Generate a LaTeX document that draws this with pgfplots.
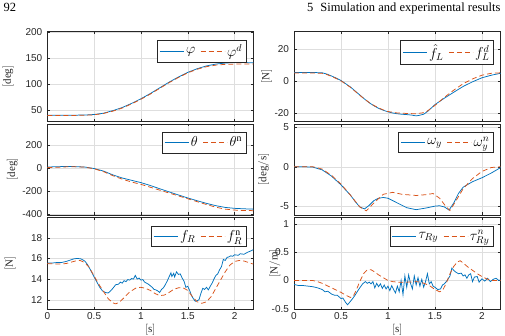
\documentclass[border=0pt]{standalone}
\usepackage{fontspec}
\setmainfont{Liberation Serif}
\newfontfamily\ticksf{Liberation Sans}
\usepackage{pgfplots}
\pgfplotsset{compat=1.18}
\definecolor{mblue}{RGB}{0,114,189}
\definecolor{morange}{RGB}{217,83,25}
\definecolor{axgray}{RGB}{38,38,38}
\definecolor{gridgray}{RGB}{222,222,222}
\pgfplotsset{
  mstyle/.style={
    scale only axis, anchor=north west,
    xmin=0, xmax=2.2, xtick={0,0.5,1,1.5,2},
    grid=major, major grid style={gridgray, line width=0.4pt},
    axis line style={axgray, line width=0.5pt},
    tick style={axgray, line width=0.4pt}, tick align=inside, major tick length=2.5pt,
    xtick pos=both, ytick pos=both,
    ticklabel style={font=\ticksf\fontsize{10}{12}\selectfont, text=axgray},
    yticklabel style={xshift=-1.5pt},
    label style={font=\fontsize{11}{13}\selectfont, text=axgray},
    legend style={draw=axgray, line width=0.5pt, fill=white,
      font=\fontsize{14}{16}\selectfont, anchor=north east,
      inner xsep=2pt, inner ysep=2.5pt,
      /tikz/every even column/.append style={column sep=3pt}},
    legend columns=2,
    legend image code/.code={\draw (0pt,0pt) -- (24pt,0pt);},
  },
  lw/.style={mstyle, width=206pt, at={(47.3pt,#1)}},
  rw/.style={mstyle, width=206.7pt, at={(294pt,#1)}},
  sol/.style={mblue, line width=0.75pt},
  das/.style={morange, line width=0.75pt, dash pattern=on 5pt off 3pt},
}
\begin{document}
\begin{tikzpicture}
\path[use as bounding box] (0pt,0pt) rectangle (505pt,335pt);
\node[anchor=base west, inner sep=0pt] at (3.5pt,323.5pt) {\fontsize{12.5}{14}\selectfont 92};
\node[anchor=base east, inner sep=0pt] at (500.7pt,323.5pt) {\fontsize{12.5}{14}\selectfont 5\hspace{7pt}Simulation and experimental results};

% ---------- top left: phi
\begin{axis}[lw=303.5pt, height=90pt, ymin=28, ymax=202,
  ytick={50,100,150,200}, yticklabels={50,100,150,200}, xticklabels={},
  ylabel={$[\mathrm{deg}]$}, ylabel style={at={(axis description cs:-0.19,0.5)}, anchor=center},
  legend style={at={(0.966,0.911)}}]
\addplot[sol] coordinates {(0,40) (0.2,40) (0.4,40.5) (0.5,41.5) (0.6,44) (0.7,49) (0.8,55) (0.9,63) (1.0,72) (1.1,82) (1.2,93) (1.3,104) (1.4,114) (1.5,123) (1.6,130) (1.7,135.5) (1.8,139) (1.9,141) (2.0,142) (2.1,142) (2.2,141.5)};
\addlegendentry{$\varphi$}
\addplot[das] coordinates {(0,39.5) (0.2,39.5) (0.4,40) (0.5,41) (0.6,43.5) (0.7,48) (0.8,54) (0.9,62) (1.0,71) (1.1,81) (1.2,92) (1.3,103) (1.4,113) (1.5,122) (1.6,129) (1.7,134) (1.8,137) (1.9,138.5) (2.0,139) (2.1,139) (2.2,139)};
\addlegendentry{$\varphi^d$}
\end{axis}

% ---------- top right: f_L
\begin{axis}[rw=303.5pt, height=90pt, ymin=-25, ymax=31,
  ytick={-20,0,20}, yticklabels={-20,0,20}, xticklabels={},
  ylabel={$[\mathrm{N}]$}, ylabel style={at={(axis description cs:-0.132,0.5)}, anchor=center},
  legend style={at={(0.966,0.911)}}]
\addplot[sol] coordinates {(0,5.5) (0.1,5.5) (0.2,5.5) (0.3,5.3) (0.35,4.5) (0.4,3.3) (0.45,2) (0.5,0.5) (0.55,-1.5) (0.6,-3.5) (0.65,-6) (0.7,-8.5) (0.75,-11) (0.8,-13.3) (0.85,-15.2) (0.9,-16.8) (0.95,-18) (1.0,-19) (1.05,-19.7) (1.1,-20.2) (1.15,-20.5) (1.2,-20.7) (1.25,-21) (1.3,-21.5) (1.33,-21.2) (1.38,-20.5) (1.42,-18.8) (1.5,-14.5) (1.6,-10.5) (1.7,-6.8) (1.8,-3.2) (1.9,-0.3) (2.0,2.2) (2.1,3.8) (2.2,5)};
\addlegendentry{$\hat{f}_L$}
\addplot[das] coordinates {(0,5.2) (0.2,5.2) (0.3,5) (0.35,4.2) (0.4,3) (0.45,1.7) (0.5,0.3) (0.55,-1.7) (0.6,-3.7) (0.65,-6.2) (0.7,-8.7) (0.75,-11) (0.8,-13.2) (0.85,-15) (0.9,-16.5) (0.95,-17.8) (1.0,-18.8) (1.1,-19.7) (1.2,-20) (1.3,-20.2) (1.4,-19.3) (1.5,-15) (1.6,-10) (1.7,-5.5) (1.8,-1.5) (1.9,1.5) (2.0,3.8) (2.1,5) (2.2,5.3)};
\addlegendentry{$f_L^d$}
\end{axis}

% ---------- middle left: theta
\begin{axis}[lw=211pt, height=90.8pt, ymin=-404, ymax=383,
  ytick={-400,-200,0,200}, yticklabels={-400,-200,0,200}, xticklabels={},
  ylabel={$[\mathrm{deg}]$}, ylabel style={at={(axis description cs:-0.17,0.5)}, anchor=center},
  legend style={at={(0.966,0.911)}}]
\addplot[sol] coordinates {(0,10) (0.1,13) (0.25,15) (0.4,10) (0.5,-3) (0.6,-25) (0.7,-58) (0.8,-85) (0.9,-105) (1.0,-125) (1.1,-150) (1.2,-178) (1.3,-205) (1.4,-232) (1.5,-258) (1.6,-282) (1.7,-305) (1.8,-325) (1.9,-340) (2.0,-348) (2.1,-352) (2.2,-355)};
\addlegendentry{$\theta$}
\addplot[das] coordinates {(0,5) (0.25,13) (0.4,9) (0.5,-5) (0.6,-30) (0.7,-65) (0.8,-95) (0.9,-120) (1.0,-140) (1.1,-165) (1.2,-190) (1.3,-215) (1.4,-240) (1.5,-265) (1.6,-290) (1.7,-315) (1.8,-338) (1.9,-355) (2.0,-363) (2.1,-367) (2.2,-368)};
\addlegendentry{$\theta^{\mathrm{n}}$}
\end{axis}

% ---------- middle right: omega_y
\begin{axis}[rw=211pt, height=90.8pt, ymin=-6.1, ymax=5.42,
  ytick={-5,0,5}, yticklabels={-5,0,5}, xticklabels={},
  ylabel={$[\mathrm{deg/s}]$}, ylabel style={at={(axis description cs:-0.147,0.5)}, anchor=center},
  legend style={at={(0.966,0.911)}}]
\addplot[sol] coordinates {(0,0) (0.1,0) (0.2,-0.05) (0.3,-0.4) (0.4,-1.2) (0.5,-2.3) (0.6,-3.6) (0.65,-4.4) (0.7,-5.1) (0.75,-5.35) (0.8,-4.9) (0.85,-4.3) (0.9,-4.0) (0.95,-3.9) (1.0,-4.0) (1.1,-4.6) (1.2,-5.2) (1.3,-5.45) (1.4,-5.25) (1.5,-5.0) (1.55,-4.95) (1.6,-5.1) (1.65,-5.5) (1.7,-4.6) (1.75,-3.4) (1.8,-2.6) (1.9,-1.9) (2.0,-1.4) (2.1,-0.8) (2.2,-0.1)};
\addlegendentry{$\omega_y$}
\addplot[das] coordinates {(0,0) (0.2,0) (0.3,-0.3) (0.4,-1.1) (0.5,-2.2) (0.6,-3.6) (0.7,-5.1) (0.77,-5.6) (0.85,-4.6) (0.95,-3.5) (1.05,-3.25) (1.15,-3.5) (1.3,-3.65) (1.4,-3.55) (1.48,-3.4) (1.55,-4.0) (1.62,-5.1) (1.66,-5.55) (1.72,-4.4) (1.8,-2.8) (1.9,-1.5) (2.0,-0.6) (2.1,-0.1) (2.2,0)};
\addlegendentry{$\omega_y^n$}
\end{axis}

% ---------- bottom left: f_R
\begin{axis}[lw=117.3pt, height=91.3pt, ymin=11.1, ymax=19.94,
  ytick={12,14,16,18}, yticklabels={12,14,16,18}, xticklabels={0,0.5,1,1.5,2},
  xlabel={$[\mathrm{s}]$}, xlabel style={at={(axis description cs:0.5,-0.23)}, anchor=center},
  ylabel={$[\mathrm{N}]$}, ylabel style={at={(axis description cs:-0.18,0.5)}, anchor=center},
  legend style={at={(0.966,0.911)}}]
\addplot[sol] coordinates {(0,15.55) (0.05,15.55) (0.1,15.6) (0.15,15.6) (0.2,15.7) (0.25,15.85) (0.28,15.95) (0.32,16.0) (0.36,15.95) (0.4,15.75) (0.43,15.4) (0.46,14.9) (0.5,14.2) (0.53,13.7) (0.56,13.2) (0.59,12.85) (0.62,12.7) (0.65,12.65) (0.67,12.8) (0.7,13.1) (0.73,13.45) (0.76,13.5) (0.78,13.7) (0.8,13.6) (0.82,13.85) (0.84,13.75) (0.86,13.95) (0.88,13.9) (0.9,14.05) (0.92,14.0) (0.94,14.35) (0.96,14.0) (0.98,14.1) (1.0,13.9) (1.02,13.95) (1.04,13.7) (1.06,13.6) (1.08,13.5) (1.1,13.35) (1.12,13.2) (1.14,13.0) (1.16,12.95) (1.18,12.85) (1.2,12.7) (1.22,13.0) (1.24,13.15) (1.26,13.45) (1.28,13.8) (1.3,14.2) (1.32,14.6) (1.33,14.25) (1.35,14.55) (1.36,14.2) (1.38,14.7) (1.4,14.45) (1.42,14.5) (1.44,14.1) (1.46,13.8) (1.48,13.2) (1.5,13.3) (1.52,12.9) (1.54,12.4) (1.56,12.1) (1.58,11.85) (1.6,11.9) (1.62,12.0) (1.64,12.6) (1.66,13.1) (1.68,13.0) (1.7,13.2) (1.72,12.95) (1.74,13.3) (1.76,13.6) (1.78,14.0) (1.8,14.35) (1.82,14.5) (1.84,14.9) (1.86,15.2) (1.88,15.9) (1.9,15.8) (1.92,16.1) (1.94,16.15) (1.96,16.25) (1.98,16.2) (2.0,16.35) (2.04,16.3) (2.06,16.45) (2.1,16.4) (2.14,16.6) (2.18,16.75) (2.2,16.85)};
\addlegendentry{$f_R$}
\addplot[das] coordinates {(0,15.5) (0.1,15.45) (0.2,15.5) (0.3,15.75) (0.35,15.8) (0.4,15.6) (0.45,15.1) (0.5,14.3) (0.55,13.5) (0.6,12.8) (0.65,12.1) (0.7,11.7) (0.73,11.6) (0.77,11.75) (0.82,12.2) (0.88,12.75) (0.95,13.15) (1.0,13.2) (1.05,13.1) (1.1,12.9) (1.15,12.6) (1.2,12.4) (1.25,12.45) (1.3,12.7) (1.35,13.0) (1.4,13.15) (1.45,13.15) (1.5,12.9) (1.55,12.3) (1.6,11.8) (1.65,11.65) (1.7,11.8) (1.75,12.3) (1.8,13.1) (1.85,13.9) (1.9,14.7) (1.95,15.35) (2.0,15.7) (2.05,15.8) (2.1,15.75) (2.15,15.6) (2.2,15.45)};
\addlegendentry{$f_R^{\mathrm{n}}$}
\end{axis}

% ---------- bottom right: tau_Ry
\begin{axis}[rw=117.3pt, height=91.3pt, ymin=-0.505, ymax=1.112,
  ytick={-0.5,0,0.5,1}, yticklabels={-0.5,0,0.5,1}, xticklabels={0,0.5,1,1.5,2},
  xlabel={$[\mathrm{s}]$}, xlabel style={at={(axis description cs:0.5,-0.23)}, anchor=center},
  ylabel={$[\mathrm{N/m}]$}, ylabel style={at={(axis description cs:-0.092,0.5)}, anchor=center},
  legend style={at={(0.966,0.911)}}]
\addplot[sol] coordinates {(0,-0.07) (0.05,-0.09) (0.1,-0.09) (0.15,-0.1) (0.2,-0.11) (0.25,-0.13) (0.3,-0.16) (0.33,-0.2) (0.36,-0.19) (0.4,-0.24) (0.43,-0.26) (0.46,-0.26) (0.5,-0.32) (0.52,-0.31) (0.55,-0.39) (0.57,-0.43) (0.6,-0.37) (0.62,-0.33) (0.65,-0.26) (0.68,-0.18) (0.7,-0.13) (0.73,-0.06) (0.76,-0.02) (0.78,-0.05) (0.8,-0.03) (0.82,-0.06) (0.84,-0.02) (0.86,-0.13) (0.88,-0.05) (0.9,-0.11) (0.92,-0.06) (0.94,-0.14) (0.96,-0.08) (0.98,-0.15) (1.0,-0.1) (1.02,-0.18) (1.04,-0.09) (1.06,-0.16) (1.08,-0.22) (1.1,-0.1) (1.12,-0.2) (1.14,0.0) (1.16,-0.25) (1.18,0.08) (1.2,-0.12) (1.22,0.1) (1.24,-0.05) (1.26,-0.15) (1.28,0.08) (1.3,-0.08) (1.32,0.05) (1.34,-0.1) (1.36,0.02) (1.38,-0.12) (1.4,-0.02) (1.42,0.12) (1.44,-0.06) (1.46,-0.02) (1.48,-0.1) (1.5,-0.12) (1.53,-0.16) (1.56,-0.15) (1.58,-0.08) (1.6,-0.06) (1.63,0.0) (1.66,0.08) (1.68,0.22) (1.7,0.18) (1.72,0.15) (1.75,0.12) (1.78,0.13) (1.8,0.08) (1.82,0.1) (1.84,0.04) (1.86,0.1) (1.88,0.12) (1.9,-0.02) (1.92,0.06) (1.95,0.07) (1.97,-0.03) (2.0,0.03) (2.03,-0.01) (2.06,0.04) (2.09,-0.02) (2.12,0.02) (2.15,0.04) (2.18,0.0) (2.2,0.01)};
\addlegendentry{$\tau_{Ry}$}
\addplot[das] coordinates {(0,0) (0.1,0) (0.2,0) (0.25,-0.02) (0.3,-0.05) (0.35,-0.09) (0.4,-0.13) (0.45,-0.17) (0.5,-0.21) (0.55,-0.26) (0.6,-0.3) (0.63,-0.28) (0.66,-0.18) (0.7,-0.02) (0.74,0.12) (0.78,0.19) (0.82,0.19) (0.86,0.15) (0.9,0.1) (0.95,0.05) (1.0,0.0) (1.05,-0.02) (1.1,-0.03) (1.2,-0.03) (1.3,-0.02) (1.35,-0.03) (1.4,-0.06) (1.45,-0.1) (1.5,-0.16) (1.55,-0.2) (1.58,-0.18) (1.62,-0.05) (1.66,0.12) (1.7,0.25) (1.74,0.33) (1.77,0.35) (1.8,0.31) (1.85,0.24) (1.9,0.18) (1.95,0.12) (2.0,0.07) (2.05,0.03) (2.1,0.0) (2.2,0.0)};
\addlegendentry{$\tau_{Ry}^n$}
\end{axis}
\end{tikzpicture}
\end{document}
